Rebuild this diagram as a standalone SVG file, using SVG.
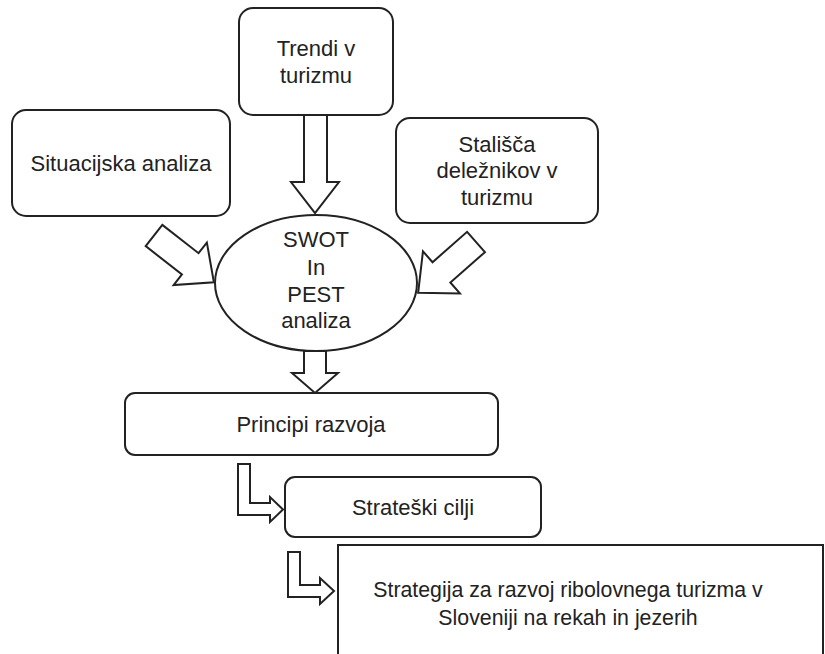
<svg xmlns="http://www.w3.org/2000/svg" width="825" height="654" viewBox="0 0 825 654">
<defs>
<style>
.box{fill:#fff;stroke:#222;stroke-width:2}
.arr{fill:#fff;stroke:#222;stroke-width:2;stroke-linejoin:miter}
text{font-family:"Liberation Sans",Arial,sans-serif;font-size:22px;fill:#222;text-anchor:middle}
.big{font-size:21.3px}
</style>
</defs>
<rect width="825" height="654" fill="#fff"/>
<g id="connectors">
<polygon class="arr" points="304,115 327,115 327,182 339,182 315,213 291,182 304,182"/>
<polygon class="arr" transform="translate(154,235.5) rotate(38)" points="0,-13.5 46,-13.5 46,-27 76,0 46,27 46,13.5 0,13.5"/>
<polygon class="arr" transform="translate(476,242) rotate(138.7)" points="0,-13.5 46,-13.5 46,-28 77,0 46,28 46,13.5 0,13.5"/>
<polygon class="arr" points="304,351 326,351 326,373 338,373 315,393 292,373 304,373"/>
<polygon class="arr" points="238,464 250,464 250,503 270,503 270,497 283,509.5 270,522 270,515 238,515"/>
<polygon class="arr" points="288,552 300,552 300,585 320,585 320,578 334,591 320,604 320,597 288,597"/>
</g>
<g id="trendi">
<rect class="box" x="239" y="8" width="154" height="107" rx="14"/>
<text x="316" y="56">Trendi v</text>
<text x="316" y="83">turizmu</text>
</g>
<g id="situacijska">
<rect class="box" x="12" y="110" width="218" height="106" rx="14"/>
<text x="121" y="171">Situacijska analiza</text>
</g>
<g id="stalisca">
<rect class="box" x="396" y="118" width="202" height="105" rx="14"/>
<text x="497" y="152">Stališča</text>
<text x="497" y="178">deležnikov v</text>
<text x="497" y="205">turizmu</text>
</g>
<g id="swot">
<ellipse class="box" cx="316" cy="283" rx="101" ry="68"/>
<text x="316" y="247">SWOT</text>
<text x="316" y="275">In</text>
<text x="316" y="302">PEST</text>
<text x="316" y="328">analiza</text>
</g>
<g id="principi">
<rect class="box" x="125" y="393" width="373" height="62" rx="10"/>
<text x="311" y="432">Principi razvoja</text>
</g>
<g id="strateski">
<rect class="box" x="285" y="477" width="256" height="60" rx="10"/>
<text x="413" y="515">Strateški cilji</text>
</g>
<g id="strategija">
<rect class="box" x="338" y="545" width="485" height="130"/>
<text class="big" x="568" y="597">Strategija za razvoj ribolovnega turizma v</text>
<text class="big" x="568" y="625">Sloveniji na rekah in jezerih</text>
</g>
</svg>
